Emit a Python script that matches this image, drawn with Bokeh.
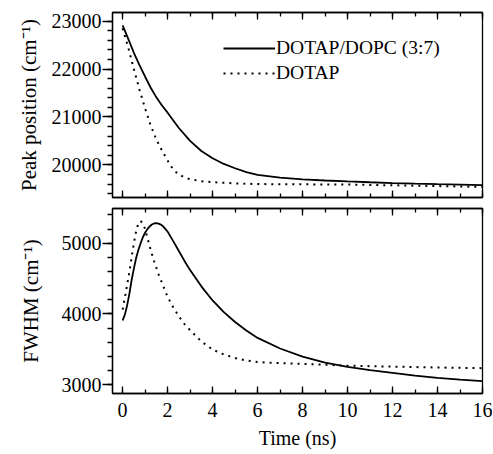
from bokeh.plotting import figure
from bokeh.layouts import column
from bokeh.models import LinearAxis, FixedTicker, Range1d
from bokeh.embed import file_html
from bokeh.resources import INLINE

# ---------------- data ----------------
labels = ["DOTAP/DOPC (3:7)", "DOTAP"]

t_pk_mix = [0, 0.25, 0.5, 0.75, 1, 1.25, 1.5, 1.75, 2, 2.5, 3, 3.5, 4, 4.5, 5,
            5.5, 6, 7, 8, 9, 10, 11, 12, 13, 14, 15, 16]
pk_mix = [22910, 22630, 22340, 22080, 21840, 21610, 21410, 21240, 21090, 20770,
          20500, 20290, 20140, 20020, 19930, 19850, 19790, 19735, 19700, 19675,
          19655, 19638, 19622, 19608, 19597, 19587, 19577]

t_pk_dotap = [0, 0.25, 0.5, 0.75, 1, 1.25, 1.5, 1.75, 2, 2.25, 2.5, 2.75, 3,
              3.5, 4, 5, 6, 8, 10, 12, 14, 16]
pk_dotap = [22850, 22450, 22000, 21570, 21180, 20820, 20530, 20300, 20090,
            19900, 19800, 19740, 19700, 19660, 19640, 19615, 19600, 19595,
            19590, 19575, 19558, 19542]

t_fw_mix = [0, 0.1, 0.2, 0.3, 0.4, 0.5, 0.6, 0.7, 0.8, 0.9, 1.0, 1.1, 1.2, 1.3,
            1.4, 1.5, 1.6, 1.7, 1.8, 2.0, 2.25, 2.5, 2.75, 3.0, 3.5, 4.0, 4.5,
            5.0, 5.5, 6.0, 7, 8, 9, 10, 11, 12, 13, 14, 15, 16]
fw_mix = [3907, 3990, 4120, 4284, 4480, 4640, 4790, 4905, 5000, 5085, 5150,
          5200, 5238, 5265, 5280, 5284, 5278, 5264, 5240, 5165, 5030, 4890,
          4750, 4620, 4390, 4190, 4025, 3885, 3765, 3660, 3510, 3395, 3310,
          3250, 3205, 3165, 3125, 3095, 3070, 3048]

t_fw_dotap = [0, 0.1, 0.2, 0.3, 0.4, 0.5, 0.6, 0.7, 0.8, 0.9, 1.0, 1.1, 1.2,
              1.3, 1.4, 1.6, 1.8, 2.0, 2.25, 2.5, 2.75, 3.0, 3.5, 4.0, 4.5,
              5.0, 5.5, 6.0, 7, 8, 9, 10, 11, 12, 13, 14, 15, 16]
fw_dotap = [4060, 4230, 4410, 4590, 4800, 5000, 5170, 5280, 5315, 5280, 5200,
            5080, 4960, 4850, 4745, 4560, 4400, 4240, 4095, 3965, 3855, 3770,
            3610, 3495, 3425, 3375, 3340, 3318, 3303, 3292, 3280, 3267, 3260,
            3254, 3247, 3241, 3236, 3232]

x_major = [0, 2, 4, 6, 8, 10, 12, 14, 16]
x_minor = list(range(0, 17))
pk_major = [20000, 21000, 22000, 23000]
pk_minor = list(range(19400, 23200, 200))
fw_major = [3000, 4000, 5000]
fw_minor = list(range(2800, 5600, 200))

FONT = "Liberation Serif"


def style_x(ax, show_labels):
    ax.ticker = FixedTicker(ticks=x_major, minor_ticks=x_minor)
    ax.major_tick_in = 7
    ax.major_tick_out = 0
    ax.minor_tick_in = 4
    ax.minor_tick_out = 0
    ax.axis_line_color = "black"
    ax.axis_line_width = 1.3
    ax.major_tick_line_width = 1.3
    ax.minor_tick_line_width = 1.3
    ax.major_tick_line_color = "black"
    ax.minor_tick_line_color = "black"
    if show_labels:
        ax.major_label_text_font = FONT
        ax.major_label_text_font_size = "20px"
        ax.major_label_text_color = "black"
        ax.major_label_standoff = 9
    else:
        ax.axis_label = None
        ax.major_label_text_font_size = "1px"
        ax.major_label_text_color = None
        ax.major_label_standoff = 0


def style_y(ax, major, minor, standoff):
    ax.ticker = FixedTicker(ticks=major, minor_ticks=minor)
    ax.major_tick_in = 0
    ax.major_tick_out = 10
    ax.minor_tick_in = 0
    ax.minor_tick_out = 5
    ax.axis_line_color = "black"
    ax.axis_line_width = 1.3
    ax.major_tick_line_width = 1.3
    ax.minor_tick_line_width = 1.3
    ax.major_tick_line_color = "black"
    ax.minor_tick_line_color = "black"
    ax.major_label_text_font = FONT
    ax.major_label_text_font_size = "20px"
    ax.major_label_text_color = "black"
    ax.major_label_standoff = 1
    ax.axis_label_text_font = FONT
    ax.axis_label_text_font_size = "21px"
    ax.axis_label_text_font_style = "normal"
    ax.axis_label_text_color = "black"
    ax.axis_label_standoff = standoff


def make_fig(height, yr, mb_top, mb_bottom):
    p = figure(width=492, height=height, x_range=Range1d(-0.45, 16),
               y_range=Range1d(*yr), output_backend="svg",
               toolbar_location=None, min_border_left=112,
               min_border_right=10, min_border_top=mb_top,
               min_border_bottom=mb_bottom)
    p.grid.visible = False
    p.outline_line_color = "black"
    p.outline_line_width = 1.3
    p.outline_line_alpha = 1
    p.background_fill_color = "white"
    p.border_fill_color = "white"
    top_ax = LinearAxis()
    style_x(top_ax, False)
    p.add_layout(top_ax, "above")
    return p


# ---------------- top panel ----------------
p1 = make_fig(205, (19320, 23180), 12, 8)
bx1 = p1.below[0]
style_x(bx1, False)
ly1 = p1.left[0]
style_y(ly1, pk_major, pk_minor, 8)
ly1.axis_label = "Peak position (cm\u207b\u00b9)"
p1.line(t_pk_mix, pk_mix, line_color="black", line_width=1.8,
        legend_label=labels[0])
p1.line(t_pk_dotap, pk_dotap, line_color="black", line_width=2,
        line_dash="2 5", legend_label=labels[1])
lg = p1.legend[0]
lg.location = (111, 113)
lg.border_line_color = None
lg.background_fill_alpha = 0
lg.padding = 0
lg.margin = 0
lg.spacing = 3
lg.glyph_width = 52
lg.glyph_height = 22
lg.label_height = 22
lg.label_standoff = 1
lg.label_text_font = FONT
lg.label_text_font_size = "19.5px"
lg.label_text_color = "black"

# ---------------- bottom panel ----------------
p2 = make_fig(248, (2873, 5492), 3, 60)
bx2 = p2.below[0]
style_x(bx2, True)
bx2.axis_label = "Time (ns)"
bx2.axis_label_text_font = FONT
bx2.axis_label_text_font_size = "20px"
bx2.axis_label_text_font_style = "normal"
bx2.axis_label_text_color = "black"
bx2.axis_label_standoff = 7
ly2 = p2.left[0]
style_y(ly2, fw_major, fw_minor, 16)
ly2.axis_label = "FWHM (cm\u207b\u00b9)"
p2.line(t_fw_mix, fw_mix, line_color="black", line_width=1.8)
p2.line(t_fw_dotap, fw_dotap, line_color="black", line_width=2,
        line_dash="2 5")

layout = column(p1, p2, spacing=0)
open("out.html", "w").write(file_html(layout, INLINE))
